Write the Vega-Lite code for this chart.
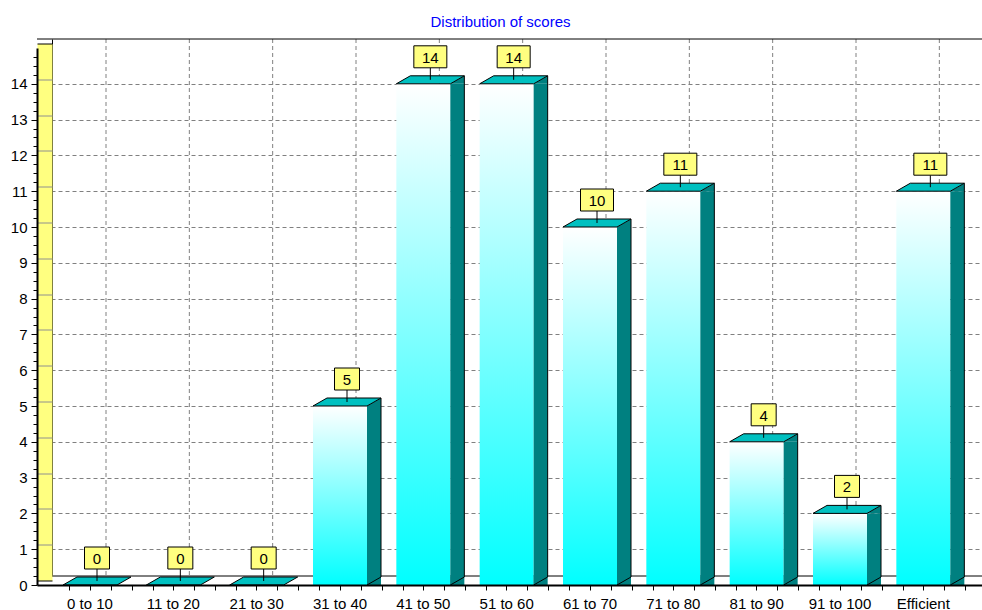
{
  "$schema": "https://vega.github.io/schema/vega-lite/v6.json",
  "width": 945,
  "height": 537,
  "autosize": "none",
  "padding": {"left": 37, "top": 48, "right": 0, "bottom": 25},
  "background": "white",
  "title": {
    "text": "Distribution of scores",
    "color": "#0000FF",
    "font": "Liberation Sans",
    "fontSize": 15,
    "fontWeight": "normal",
    "anchor": "middle",
    "dx": -9,
    "offset": -3,
    "baseline": "alphabetic"
  },
  "config": {"view": {"stroke": null}},
  "datasets": {
    "scores": [
      {"range": "0 to 10", "count": 0},
      {"range": "11 to 20", "count": 0},
      {"range": "21 to 30", "count": 0},
      {"range": "31 to 40", "count": 5},
      {"range": "41 to 50", "count": 14},
      {"range": "51 to 60", "count": 14},
      {"range": "61 to 70", "count": 10},
      {"range": "71 to 80", "count": 11},
      {"range": "81 to 90", "count": 4},
      {"range": "91 to 100", "count": 2},
      {"range": "Efficient", "count": 11}
    ]
  },
  "data": {"name": "scores"},
  "resolve": {"axis": {"x": "independent", "y": "independent"}},
  "layer": [
    {
      "description": "vertical dashed grid on the back wall",
      "mark": {"type": "rule", "color": "#808080", "strokeDash": [4, 3], "strokeWidth": 1, "opacity": 1, "xOffset": 16, "yOffset": -9, "y2Offset": -9},
      "encoding": {
        "x": {"field": "range", "type": "nominal", "sort": null, "scale": {"type": "band", "paddingInner": 0, "paddingOuter": 0.17, "align": 0.4}, "axis": null}
      }
    },
    {
      "description": "back edge of the floor, carries the horizontal back-wall grid",
      "data": {"values": [{}]},
      "mark": {"type": "rule", "color": "black", "strokeWidth": 1, "opacity": 1, "xOffset": 15, "yOffset": -9},
      "encoding": {
        "y": {"datum": 0, "type": "quantitative", "scale": {"domain": [0, 15], "nice": false},
          "axis": {"orient": "left", "values": [1,2,3,4,5,6,7,8,9,10,11,12,13,14], "title": null, "grid": true, "gridColor": "#808080", "gridDash": [4, 3], "gridWidth": 1, "domain": false, "ticks": false, "labels": false, "position": -9, "zindex": 0}}
      }
    },
    {
      "description": "top edge of the back wall, carries the wall's left edge",
      "data": {"values": [{}]},
      "mark": {"type": "rule", "color": "black", "strokeWidth": 1, "opacity": 1, "xOffset": 15, "yOffset": -9},
      "encoding": {
        "y": {"datum": 15, "type": "quantitative", "scale": {"domain": [0, 15], "nice": false},
          "axis": {"orient": "left", "title": null, "grid": false, "ticks": false, "labels": false, "domain": true, "domainColor": "black", "domainWidth": 1, "offset": -15, "position": -9, "zindex": 1}}
      }
    },
    {
      "description": "front faces of the bars",
      "transform": [{"filter": "datum.count > 0"}],
      "mark": {"type": "bar", "width": 54, "opacity": 1,
        "fill": {"gradient": "linear", "x1": 0, "y1": 0, "x2": 0, "y2": 1, "stops": [{"offset": 0, "color": "#FFFFFF"}, {"offset": 1, "color": "#00FFFF"}]}},
      "encoding": {
        "x": {"field": "range", "type": "nominal", "sort": null, "scale": {"type": "band", "paddingInner": 0, "paddingOuter": 0.17, "align": 0.4},
          "axis": {"orient": "bottom", "title": null, "grid": false, "domain": true, "domainColor": "black", "domainWidth": 2, "ticks": true, "tickColor": "black", "tickSize": 5, "tickWidth": 1, "labels": true, "labelAngle": 0, "labelFont": "Liberation Sans", "labelFontSize": 15, "labelColor": "black", "labelPadding": 6, "zindex": 1}},
        "y": {"field": "count", "type": "quantitative", "scale": {"domain": [0, 15], "nice": false},
          "axis": {"orient": "left", "values": [0,1,2,3,4,5,6,7,8,9,10,11,12,13,14], "title": null, "grid": false, "domain": true, "domainColor": "black", "domainWidth": 2, "ticks": true, "tickColor": "black", "tickSize": 6, "tickWidth": 1, "labels": true, "labelFont": "Liberation Sans", "labelFontSize": 15, "labelColor": "black", "labelPadding": 4, "zindex": 2}}
      }
    },
    {
      "description": "side faces of the bars",
      "transform": [{"filter": "datum.count > 0"}],
      "mark": {"type": "bar", "width": 14, "xOffset": 34, "y2Offset": -8, "fill": "#008080", "opacity": 1},
      "encoding": {
        "x": {"field": "range", "type": "nominal", "sort": null, "scale": {"type": "band", "paddingInner": 0, "paddingOuter": 0.17, "align": 0.4},
          "axis": {"orient": "bottom", "title": null, "grid": false, "domain": false, "labels": false, "ticks": true, "tickColor": "black", "tickSize": 5, "tickOffset": 20.83, "zindex": 1}},
        "y": {"field": "count", "type": "quantitative", "scale": {"domain": [0, 15], "nice": false},
          "axis": {"orient": "left", "values": [0.25,0.5,0.75,1.25,1.5,1.75,2.25,2.5,2.75,3.25,3.5,3.75,4.25,4.5,4.75,5.25,5.5,5.75,6.25,6.5,6.75,7.25,7.5,7.75,8.25,8.5,8.75,9.25,9.5,9.75,10.25,10.5,10.75,11.25,11.5,11.75,12.25,12.5,12.75,13.25,13.5,13.75,14.25,14.5,14.75], "title": null, "grid": false, "domain": false, "labels": false, "ticks": true, "tickColor": "black", "tickSize": 4, "zindex": 2}}
      }
    },
    {
      "description": "upper corner of each side face",
      "transform": [{"filter": "datum.count > 0"}],
      "mark": {"type": "point", "shape": "M27,0L41,-8L41,0Z", "size": 4, "filled": true, "fill": "#008080", "opacity": 1},
      "encoding": {
        "x": {"field": "range", "type": "nominal", "sort": null, "scale": {"type": "band", "paddingInner": 0, "paddingOuter": 0.17, "align": 0.4},
          "axis": {"orient": "bottom", "title": null, "grid": false, "domain": false, "labels": false, "ticks": true, "tickColor": "black", "tickSize": 5, "tickOffset": 41.67, "zindex": 1}},
        "y": {"field": "count", "type": "quantitative", "scale": {"domain": [0, 15], "nice": false},
          "axis": {"orient": "left", "title": null, "grid": false, "ticks": false, "labels": false, "domain": true, "domainColor": "#FFFF80", "domainWidth": 15, "offset": -7.5, "position": -4.5, "zindex": 1}}
      }
    },
    {
      "description": "lower corner of each side face, where it meets the floor",
      "transform": [{"filter": "datum.count > 0"}],
      "mark": {"type": "point", "shape": "M27,0L41,-8L27,-8Z", "size": 4, "filled": true, "fill": "#008080", "opacity": 1},
      "encoding": {
        "x": {"field": "range", "type": "nominal", "sort": null, "scale": {"type": "band", "paddingInner": 0, "paddingOuter": 0.17, "align": 0.4},
          "axis": {"orient": "bottom", "title": null, "grid": false, "domain": false, "labels": false, "ticks": true, "tickColor": "black", "tickSize": 5, "tickOffset": -20.83, "zindex": 1}},
        "y": {"datum": 0, "type": "quantitative", "scale": {"domain": [0, 15], "nice": false},
          "axis": {"orient": "left", "values": [0,1,2,3,4,5,6,7,8,9,10,11,12,13,14,15], "title": null, "grid": false, "domain": false, "labels": false, "ticks": true, "tickSize": 15, "tickWidth": 1,
            "tickColor": {"condition": {"test": "datum.value == 0 || datum.value == 15", "value": "black"}, "value": "#909090"},
            "offset": -15, "position": -4.5, "zindex": 1}}
      }
    },
    {
      "description": "back vertical edge of each side face",
      "transform": [{"filter": "datum.count > 0"}],
      "mark": {"type": "rule", "color": "black", "strokeWidth": 1, "opacity": 1, "xOffset": 41, "yOffset": -8, "y2Offset": -8},
      "encoding": {
        "x": {"field": "range", "type": "nominal", "sort": null, "scale": {"type": "band", "paddingInner": 0, "paddingOuter": 0.17, "align": 0.4}, "axis": null},
        "y": {"field": "count", "type": "quantitative", "scale": {"domain": [0, 15], "nice": false}, "axis": null},
        "y2": {"datum": 0}
      }
    },
    {
      "description": "diagonal where the side face meets the floor",
      "transform": [{"filter": "datum.count > 0"}],
      "mark": {"type": "point", "shape": "M27,0L41,-8", "size": 4, "filled": false, "stroke": "black", "strokeWidth": 1, "opacity": 1},
      "encoding": {
        "x": {"field": "range", "type": "nominal", "sort": null, "scale": {"type": "band", "paddingInner": 0, "paddingOuter": 0.17, "align": 0.4}, "axis": null},
        "y": {"datum": 0, "type": "quantitative", "scale": {"domain": [0, 15], "nice": false}, "axis": null}
      }
    },
    {
      "description": "top faces of the bars",
      "mark": {"type": "point", "shape": "M-27,0L27,0L41,-8L-13,-8Z", "size": 4, "filled": true, "fill": "#00C0C0", "stroke": "black", "strokeWidth": 1, "opacity": 1},
      "encoding": {
        "x": {"field": "range", "type": "nominal", "sort": null, "scale": {"type": "band", "paddingInner": 0, "paddingOuter": 0.17, "align": 0.4}, "axis": null},
        "y": {"field": "count", "type": "quantitative", "scale": {"domain": [0, 15], "nice": false}, "axis": null}
      }
    },
    {
      "description": "leader from each value box down to its bar",
      "mark": {"type": "rule", "color": "black", "strokeWidth": 1, "opacity": 1, "xOffset": 7, "yOffset": -16, "y2Offset": -4},
      "encoding": {
        "x": {"field": "range", "type": "nominal", "sort": null, "scale": {"type": "band", "paddingInner": 0, "paddingOuter": 0.17, "align": 0.4}, "axis": null},
        "y": {"field": "count", "type": "quantitative", "scale": {"domain": [0, 15], "nice": false}, "axis": null},
        "y2": {"field": "count"}
      }
    },
    {
      "description": "value boxes",
      "mark": {"type": "point", "size": 4, "filled": true, "fill": "#FFFF80", "stroke": "black", "strokeWidth": 1, "opacity": 1, "xOffset": 7, "yOffset": -27},
      "encoding": {
        "x": {"field": "range", "type": "nominal", "sort": null, "scale": {"type": "band", "paddingInner": 0, "paddingOuter": 0.17, "align": 0.4}, "axis": null},
        "y": {"field": "count", "type": "quantitative", "scale": {"domain": [0, 15], "nice": false}, "axis": null},
        "shape": {"condition": {"test": "datum.count >= 10", "value": "M-16.5,-11H16.5V11H-16.5Z"}, "value": "M-12.5,-11H12.5V11H-12.5Z"}
      }
    },
    {
      "description": "value labels",
      "mark": {"type": "text", "font": "Liberation Sans", "fontSize": 15, "color": "black", "align": "center", "baseline": "middle", "xOffset": 7, "yOffset": -26},
      "encoding": {
        "x": {"field": "range", "type": "nominal", "sort": null, "scale": {"type": "band", "paddingInner": 0, "paddingOuter": 0.17, "align": 0.4}, "axis": null},
        "y": {"field": "count", "type": "quantitative", "scale": {"domain": [0, 15], "nice": false}, "axis": null},
        "text": {"field": "count", "type": "quantitative"}
      }
    }
  ]
}
